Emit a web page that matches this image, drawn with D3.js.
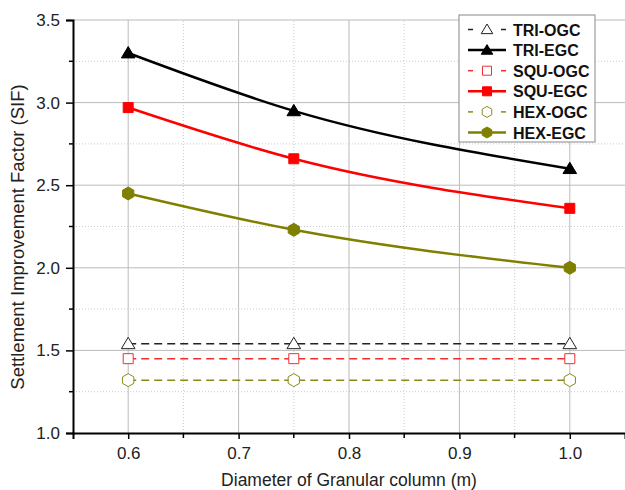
<!DOCTYPE html>
<html>
<head>
<meta charset="utf-8">
<script src="https://cdn.jsdelivr.net/npm/d3@7"></script>
<style>
  body { margin: 0; background: #fff; }
  text { font-family: "Liberation Sans", Arial, sans-serif; }
</style>
</head>
<body>
<div id="chart"></div>
<script>
// data
const diameters = [0.6, 0.75, 1.0];
const seriesNames = ["TRI-OGC", "TRI-EGC", "SQU-OGC", "SQU-EGC", "HEX-OGC", "HEX-EGC"];
const triOgc = [1.54, 1.54, 1.54];
const triEgc = [3.30, 2.95, 2.60];
const squOgc = [1.45, 1.45, 1.45];
const squEgc = [2.97, 2.66, 2.36];
const hexOgc = [1.32, 1.32, 1.32];
const hexEgc = [2.45, 2.23, 2.00];
const xTicks = [0.6, 0.7, 0.8, 0.9, 1.0];
const yTicks = [1.0, 1.5, 2.0, 2.5, 3.0, 3.5];

const series = [
  {name: seriesNames[0], values: triOgc, color: "#222", shape: "tri", open: true},
  {name: seriesNames[1], values: triEgc, color: "#000", shape: "tri", open: false},
  {name: seriesNames[2], values: squOgc, color: "#f03030", shape: "sq", open: true},
  {name: seriesNames[3], values: squEgc, color: "#ff0000", shape: "sq", open: false},
  {name: seriesNames[4], values: hexOgc, color: "#8a8a1a", shape: "hex", open: true},
  {name: seriesNames[5], values: hexEgc, color: "#808000", shape: "hex", open: false}
];

const width = 625, height = 490;
const margin = {top: 20, right: 0, bottom: 57, left: 73};

const svg = d3.select("#chart").append("svg")
  .attr("width", width)
  .attr("height", height);

const x = d3.scaleLinear().domain([0.55, 1.05]).range([margin.left, width - margin.right]);
const y = d3.scaleLinear().domain([1.0, 3.5]).range([height - margin.bottom, margin.top]);

// grid
const minorX = d3.range(0.65, 1.05, 0.1);
const minorY = d3.range(1.25, 3.5, 0.5);

svg.append("g").selectAll("line").data(minorX).enter().append("line")
  .attr("x1", d => x(d)).attr("x2", d => x(d))
  .attr("y1", y(1.0)).attr("y2", y(3.5))
  .attr("stroke", "#ccc").attr("stroke-dasharray", "1,2");
svg.append("g").selectAll("line").data(minorY).enter().append("line")
  .attr("x1", x(0.55)).attr("x2", x(1.05))
  .attr("y1", d => y(d)).attr("y2", d => y(d))
  .attr("stroke", "#ccc").attr("stroke-dasharray", "1,2");
svg.append("g").selectAll("line").data(xTicks).enter().append("line")
  .attr("x1", d => x(d)).attr("x2", d => x(d))
  .attr("y1", y(1.0)).attr("y2", y(3.5))
  .attr("stroke", "#bbb");
svg.append("g").selectAll("line").data(yTicks.slice(1)).enter().append("line")
  .attr("x1", x(0.55)).attr("x2", x(1.05))
  .attr("y1", d => y(d)).attr("y2", d => y(d))
  .attr("stroke", "#bbb");

// axes
const xAxis = svg.append("g")
  .attr("transform", `translate(0,${y(1.0)})`)
  .call(d3.axisBottom(x).tickValues(xTicks).tickFormat(d3.format(".1f")).tickSizeOuter(0).tickSize(6).tickPadding(8));
xAxis.append("g").selectAll("line").data(minorX).enter().append("line")
  .attr("x1", d => x(d)).attr("x2", d => x(d)).attr("y1", 0).attr("y2", 5)
  .attr("stroke", "#000").attr("stroke-width", 1.5);

const yAxis = svg.append("g")
  .attr("transform", `translate(${x(0.55)},0)`)
  .call(d3.axisLeft(y).tickValues(yTicks).tickFormat(d3.format(".1f")).tickSizeOuter(0).tickSize(7).tickPadding(6));
yAxis.append("g").selectAll("line").data(minorY).enter().append("line")
  .attr("y1", d => y(d)).attr("y2", d => y(d)).attr("x1", 0).attr("x2", -4)
  .attr("stroke", "#000").attr("stroke-width", 1.5);

[xAxis, yAxis].forEach(a => {
  a.attr("font-family", null).attr("font-size", null);
  a.select(".domain").attr("stroke", "#000").attr("stroke-width", 2);
  a.selectAll(".tick line").attr("stroke-width", 1.5);
  a.selectAll(".tick text").style("font-size", "17px").attr("fill", "#222");
});

svg.append("text")
  .attr("x", (x(0.55) + x(1.05)) / 2)
  .attr("y", 486)
  .attr("text-anchor", "middle")
  .style("font-size", "17.5px")
  .attr("fill", "#222")
  .text("Diameter of Granular column (m)");

svg.append("text")
  .attr("transform", "translate(24,237) rotate(-90)")
  .attr("text-anchor", "middle")
  .style("font-size", "18.5px")
  .attr("fill", "#222")
  .text("Settlement Improvement Factor  (SIF)");

// marker shapes
function markerPath(shape, s) {
  if (shape === "tri") return `M0,${-s}L${s * 1.05},${s * 0.75}L${-s * 1.05},${s * 0.75}Z`;
  if (shape === "sq") return `M${-s},${-s}H${s}V${s}H${-s}Z`;
  const pts = d3.range(6).map(i => {
    const a = Math.PI / 6 + i * Math.PI / 3;
    return [Math.cos(a) * s, Math.sin(a) * s];
  });
  return "M" + pts.map(p => p.join(",")).join("L") + "Z";
}

const line = d3.line()
  .x((d, i) => x(diameters[i]))
  .y(d => y(d));

series.forEach(s => {
  const g = svg.append("g");
  g.append("path")
    .datum(s.values)
    .attr("fill", "none")
    .attr("stroke", s.color)
    .attr("stroke-width", s.open ? 1.5 : 2.5)
    .attr("stroke-dasharray", s.open ? "8,5" : null)
    .attr("d", line.curve(s.open ? d3.curveLinear : d3.curveMonotoneX));
  g.selectAll("path.m").data(s.values).enter().append("path")
    .attr("class", "m")
    .attr("transform", (d, i) => `translate(${x(diameters[i])},${y(d)})`)
    .attr("d", markerPath(s.shape, s.shape === "sq" ? 5 : 6.5))
    .attr("fill", s.open ? "#fff" : s.color)
    .attr("stroke", s.color)
    .attr("stroke-width", 1);
});

// legend
const leg = svg.append("g").attr("transform", "translate(459,15)");
leg.append("rect")
  .attr("width", 136).attr("height", 127)
  .attr("fill", "#fff").attr("stroke", "#888").attr("stroke-width", 1);
series.forEach((s, i) => {
  const row = leg.append("g").attr("transform", `translate(0,${14.5 + i * 20.6})`);
  if (s.open) {
    row.append("line").attr("x1", 9).attr("x2", 14).attr("stroke", s.color).attr("stroke-width", 1.5);
    row.append("line").attr("x1", 42).attr("x2", 47).attr("stroke", s.color).attr("stroke-width", 1.5);
  } else {
    row.append("line").attr("x1", 9).attr("x2", 47).attr("stroke", s.color).attr("stroke-width", 2.5);
  }
  row.append("path")
    .attr("transform", "translate(28,0)")
    .attr("d", markerPath(s.shape, s.shape === "sq" ? 4.5 : 5.5))
    .attr("fill", s.open ? "#fff" : s.color)
    .attr("stroke", s.color);
  row.append("text")
    .attr("x", 54).attr("y", 6)
    .style("font-size", "16px").style("font-weight", "bold")
    .attr("fill", "#111")
    .text(s.name);
});
</script>
</body>
</html>
